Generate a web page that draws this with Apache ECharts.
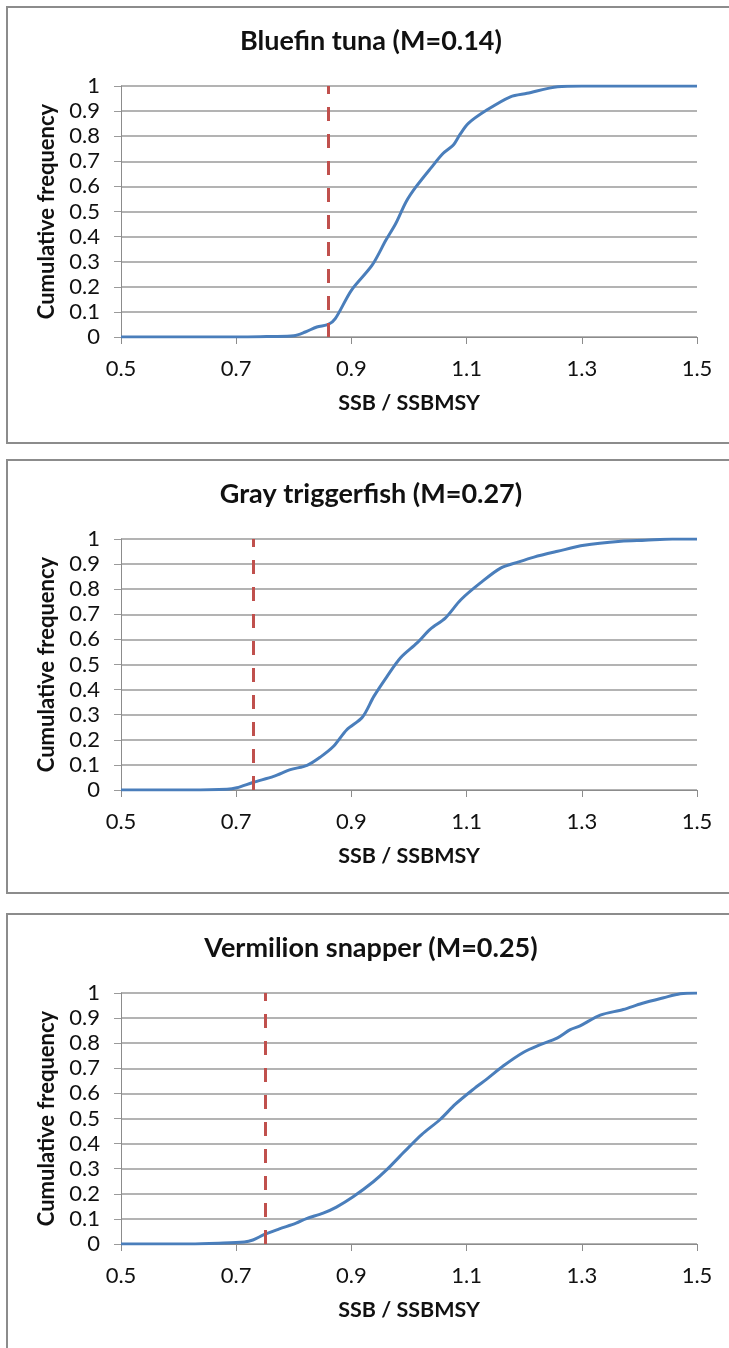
<!DOCTYPE html>
<html>
<head>
<meta charset="utf-8">
<script src="https://cdn.jsdelivr.net/npm/echarts@6/dist/echarts.min.js"></script>
<style>
  html, body { margin: 0; padding: 0; background: #fff; }
  #main { width: 729px; height: 1348px; }
</style>
</head>
<body>
<div id="main"></div>
<script>
// values
var tunaX = [0.5, 0.72, 0.76, 0.80, 0.82, 0.84, 0.86, 0.872, 0.90, 0.936, 0.96, 0.977, 0.995, 1.012, 1.039, 1.059, 1.077, 1.088, 1.103, 1.135, 1.176, 1.205, 1.258, 1.30, 1.5];
var tunaY = [0, 0, 0.002, 0.005, 0.02, 0.04, 0.05, 0.073, 0.186, 0.286, 0.386, 0.452, 0.539, 0.598, 0.676, 0.731, 0.765, 0.805, 0.851, 0.904, 0.957, 0.971, 0.997, 1.0, 1.0];

var triggerX = [0.5, 0.62, 0.684, 0.701, 0.73, 0.765, 0.794, 0.823, 0.846, 0.869, 0.892, 0.919, 0.939, 0.962, 0.985, 1.014, 1.037, 1.063, 1.09, 1.124, 1.159, 1.188, 1.217, 1.258, 1.304, 1.368, 1.41, 1.457, 1.5];
var triggerY = [0, 0, 0.003, 0.009, 0.031, 0.054, 0.081, 0.098, 0.131, 0.174, 0.24, 0.29, 0.373, 0.453, 0.526, 0.586, 0.641, 0.685, 0.758, 0.825, 0.884, 0.907, 0.928, 0.951, 0.975, 0.991, 0.995, 1.0, 1.0];

var snapperX = [0.5, 0.62, 0.67, 0.714, 0.729, 0.749, 0.775, 0.804, 0.822, 0.851, 0.874, 0.903, 0.938, 0.961, 0.984, 1.001, 1.022, 1.054, 1.08, 1.112, 1.135, 1.164, 1.199, 1.228, 1.257, 1.28, 1.297, 1.332, 1.372, 1.404, 1.442, 1.471, 1.5];
var snapperY = [0, 0, 0.003, 0.008, 0.016, 0.038, 0.06, 0.083, 0.101, 0.123, 0.147, 0.188, 0.248, 0.295, 0.349, 0.389, 0.436, 0.496, 0.556, 0.617, 0.657, 0.71, 0.764, 0.794, 0.82, 0.854, 0.869, 0.912, 0.934, 0.958, 0.981, 0.997, 1.0];

var titles = ['Bluefin tuna (M=0.14)', 'Gray triggerfish (M=0.27)', 'Vermilion snapper (M=0.25)'];
var refLines = [0.86, 0.73, 0.75];   // SSB / SSBMSY at the red dashed line
var xTicks = [0.5, 0.7, 0.9, 1.1, 1.3, 1.5];

var panels = [[tunaX, tunaY], [triggerX, triggerY], [snapperX, snapperY]];
var plotTops = [86, 539, 993];
var boxTops = [7, 460, 914];
var boxHeights = [436, 433, 460];

var font = 'Lato, "Open Sans", sans-serif';

var myChart = echarts.init(document.getElementById('main'));

var option = {
	animation: false,
	backgroundColor: '#fff',
	title: [], grid: [], xAxis: [], yAxis: [], series: [], graphic: []
};

for (var i = 0; i < 3; i++) {
	option.graphic.push({
		type: 'rect',
		shape: { x: 7, y: boxTops[i], width: 740, height: boxHeights[i] },
		style: { fill: 'none', stroke: '#8c8c8c', lineWidth: 2 },
		silent: true
	});
	option.title.push({
		text: titles[i],
		left: 371,
		top: boxTops[i] + 21,
		textAlign: 'center',
		padding: 0,
		textStyle: { fontFamily: font, fontSize: 27, fontWeight: 'bold', color: '#111' }
	});
	option.grid.push({ left: 121, top: plotTops[i], width: 576, height: 251 });
	option.xAxis.push({
		type: 'value', gridIndex: i, min: 0.5, max: 1.5,
		name: 'SSB / SSBMSY', nameLocation: 'middle', nameGap: 55,
		nameTextStyle: { fontFamily: font, fontSize: 21.5, fontWeight: 'bold', color: '#111' },
		axisLine: { lineStyle: { color: '#8c8c8c', width: 1 } },
		axisTick: { show: true, length: 7, customValues: xTicks, lineStyle: { color: '#8c8c8c' } },
		axisLabel: {
			customValues: xTicks, margin: 21,
			fontFamily: font, fontSize: 22, color: '#111',
			formatter: function (v) { return v.toFixed(1); }
		},
		splitLine: { show: false }
	});
	option.yAxis.push({
		type: 'value', gridIndex: i, min: 0, max: 1, interval: 0.1,
		name: 'Cumulative frequency', nameLocation: 'middle', nameGap: 62,
		nameTextStyle: { fontFamily: font, fontSize: 22, fontWeight: 'bold', color: '#111' },
		axisLine: { show: true, lineStyle: { color: '#8c8c8c', width: 1 } },
		axisTick: { show: true, length: 7, lineStyle: { color: '#9a9a9a' } },
		axisLabel: {
			margin: 21, fontFamily: font, fontSize: 22, color: '#111',
			formatter: function (v) { return String(Math.round(v * 10) / 10); }
		},
		splitLine: { lineStyle: { color: '#9a9a9a', width: 1.5 } }
	});
	var pts = [];
	for (var k = 0; k < panels[i][0].length; k++) pts.push([panels[i][0][k], panels[i][1][k]]);
	option.series.push({
		type: 'line', xAxisIndex: i, yAxisIndex: i,
		data: pts, showSymbol: false, smooth: 0.3,
		lineStyle: { color: '#4a7ebb', width: 3 },
		markLine: {
			silent: true, symbol: ['none', 'none'], label: { show: false },
			lineStyle: { color: '#c0504d', type: [14, 13], width: 3 },
			data: [{ xAxis: refLines[i] }]
		},
		z: 3
	});
}

myChart.setOption(option);
</script>
</body>
</html>
